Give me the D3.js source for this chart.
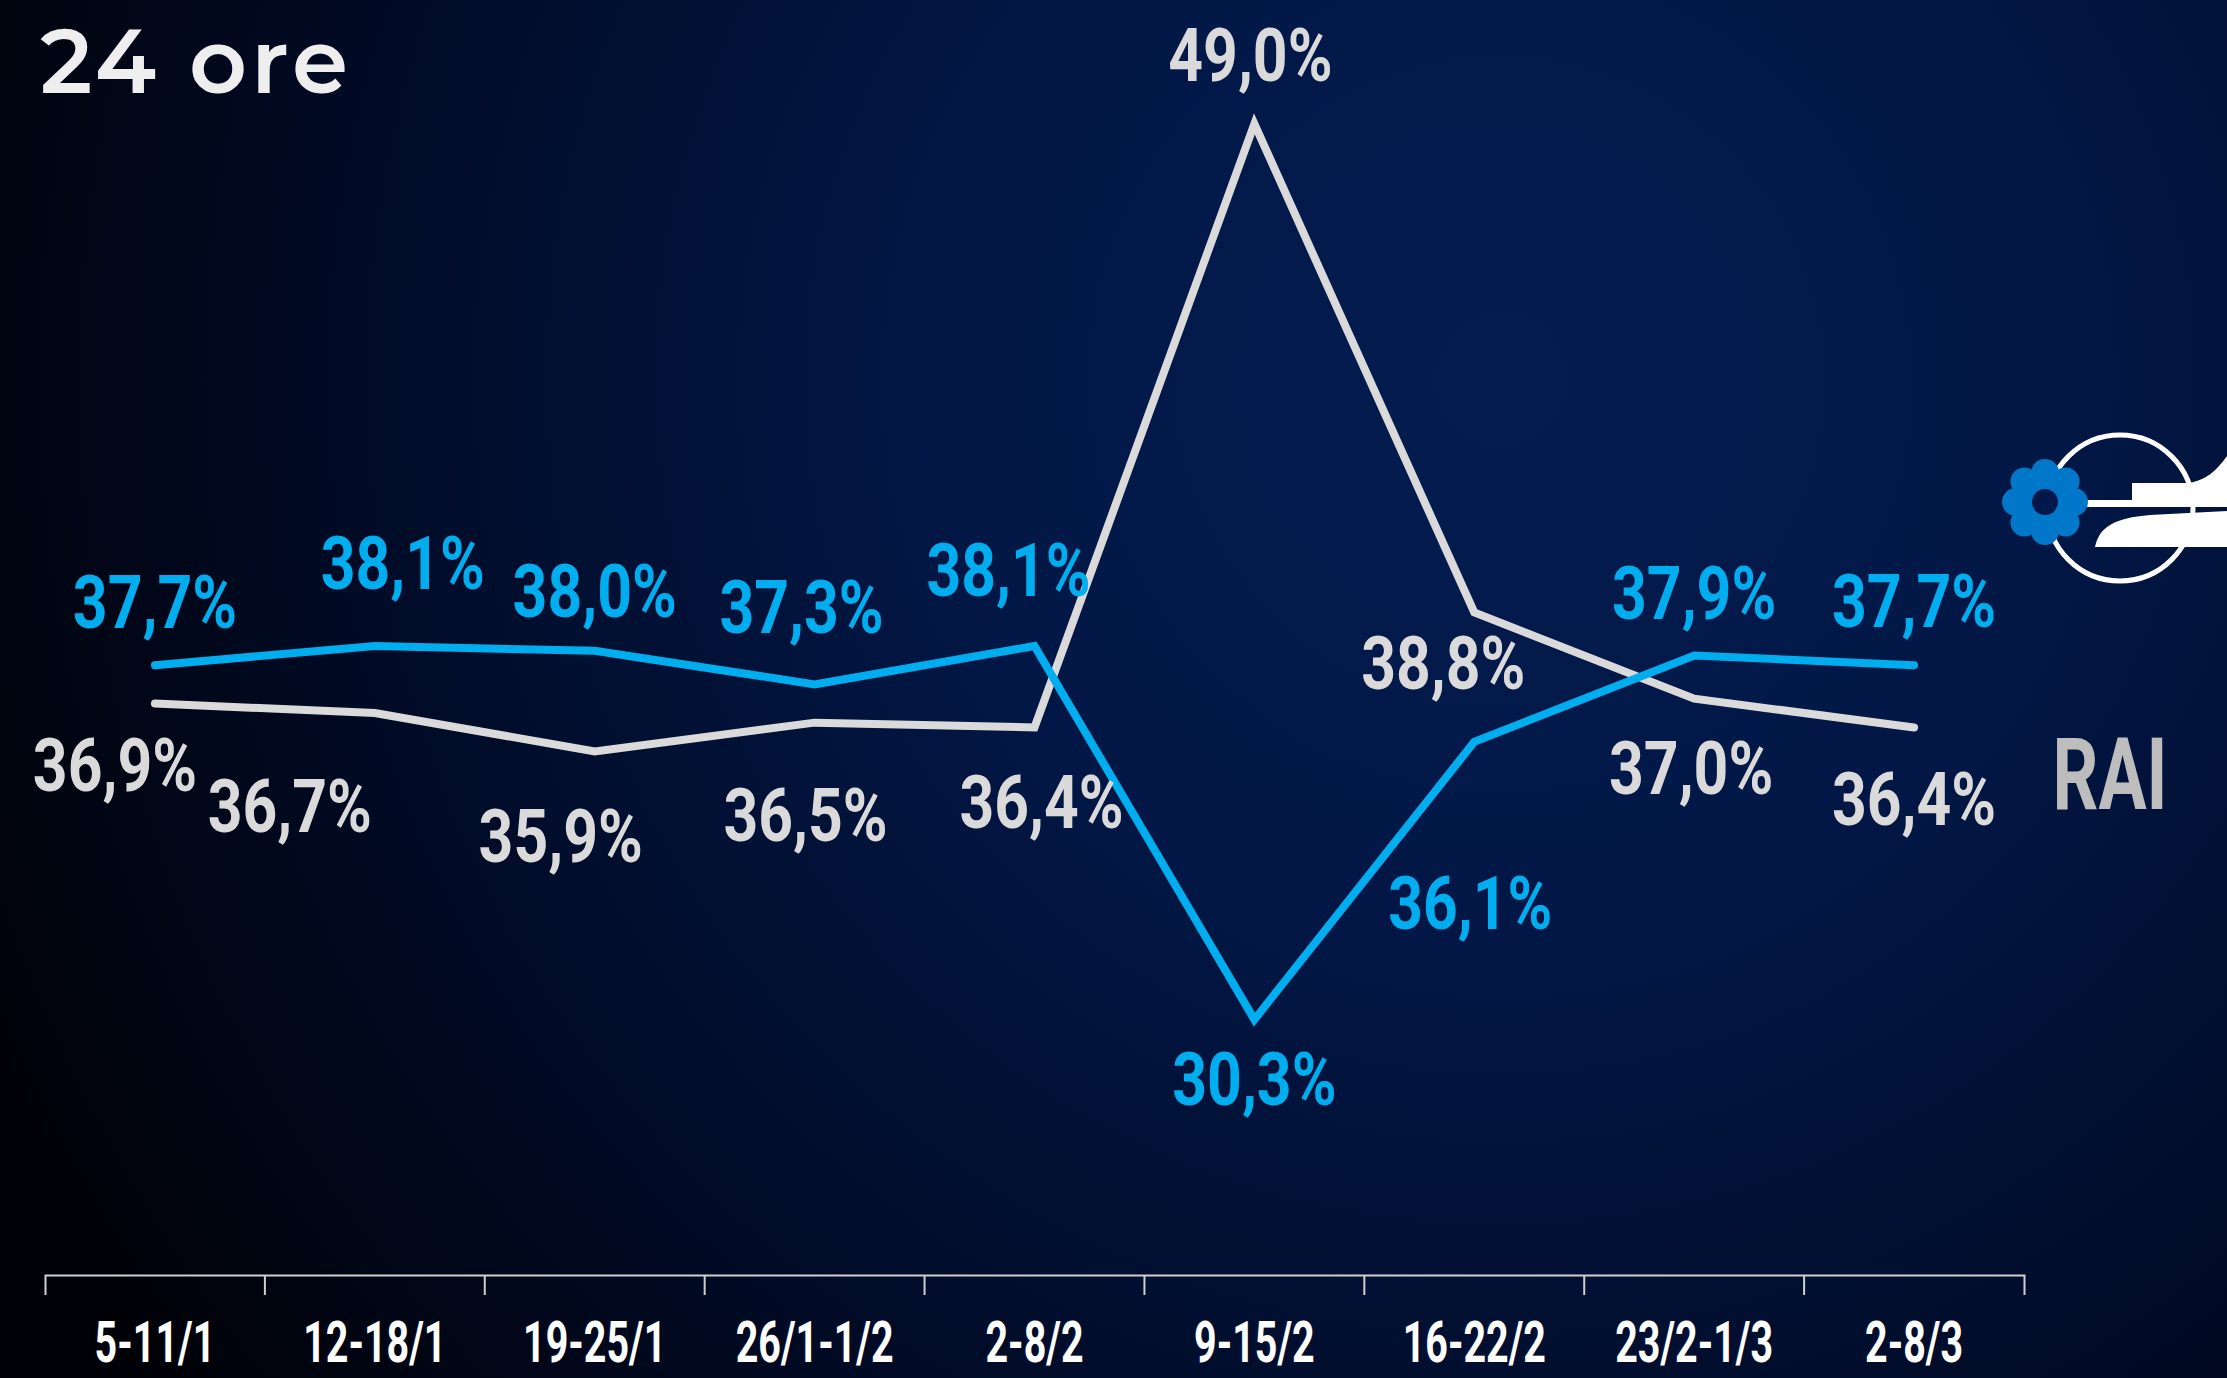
<!DOCTYPE html>
<html>
<head>
<meta charset="utf-8">
<script src="https://cdn.jsdelivr.net/npm/d3@7"></script>
<style>
  html, body { margin: 0; padding: 0; background: #01040f; overflow: hidden; }
  svg { display: block; }
</style>
</head>
<body>
<div id="viz"></div>
<script>
// weekly share, 24 ore
const weeks = ["5-11/1", "12-18/1", "19-25/1", "26/1-1/2", "2-8/2", "9-15/2", "16-22/2", "23/2-1/3", "2-8/3"];
const mediaset = [37.7, 38.1, 38.0, 37.3, 38.1, 30.3, 36.1, 37.9, 37.7];
const rai = [36.9, 36.7, 35.9, 36.5, 36.4, 49.0, 38.8, 37.0, 36.4];

// hand placement of the value labels, [dx, dy] from the point
const mediasetNudge = [[0, -37], [28, -57], [0, -34], [-13, -51], [-26, -50], [0, 85], [-4, 187], [0, -37], [0, -38]];
const raiNudge = [[-40, 88], [-85, 119], [-34, 111], [-9, 118], [7, 101], [-4, -43], [-31, 77], [-3, 95], [0, 98]];

const width = 2227,
    height = 1378,
    axisY = 1275;

const blue = "#00aeef",
    light = "#dadada";

const svg = d3.select("#viz").append("svg")
    .attr("width", width)
    .attr("height", height);

// background
const defs = svg.append("defs");
const bg = defs.append("radialGradient")
    .attr("id", "bg")
    .attr("gradientUnits", "userSpaceOnUse")
    .attr("cx", 1500).attr("cy", 380).attr("r", 1650);
bg.append("stop").attr("offset", 0).attr("stop-color", "#041c50");
bg.append("stop").attr("offset", 0.35).attr("stop-color", "#021745");
bg.append("stop").attr("offset", 0.7).attr("stop-color", "#010b26");
bg.append("stop").attr("offset", 1).attr("stop-color", "#000208");

svg.append("rect")
    .attr("width", width)
    .attr("height", height)
    .attr("fill", "url(#bg)");

svg.append("text")
    .attr("x", 40)
    .attr("y", 93)
    .attr("fill", "#eeeeee")
    .style("font-family", "Montserrat, Inter, 'Open Sans', sans-serif")
    .style("font-weight", 600)
    .style("font-size", "90px")
    .style("letter-spacing", "4px")
    .text("24 ore");

const x = d3.scaleBand()
    .domain(weeks)
    .range([45, 2024])
    .padding(0);

const y = d3.scaleLinear()
    .domain([30, 50])
    .range([1034, 76]);

const cx = d => x(d) + x.bandwidth() / 2;

// x axis: end ticks from the domain path, inner ticks on band edges
const xAxis = d3.axisBottom(x)
    .tickSize(0)
    .tickSizeOuter(20);

const gx = svg.append("g")
    .attr("transform", "translate(0," + axisY + ")")
    .call(xAxis);

gx.select(".domain")
    .attr("stroke", "#cfcfcf")
    .attr("stroke-width", 2);

gx.selectAll(".tick text")
    .attr("y", 87)
    .attr("dy", null)
    .attr("fill", "#ffffff")
    .attr("transform", "scale(0.68,1)")
    .style("font-family", "Roboto, sans-serif")
    .style("font-weight", 700)
    .style("font-size", "58px");

gx.selectAll(".edge")
    .data(weeks.slice(1))
    .enter().append("line")
    .attr("class", "edge")
    .attr("x1", d => x(d))
    .attr("x2", d => x(d))
    .attr("y1", 0)
    .attr("y2", 20)
    .attr("stroke", "#cfcfcf")
    .attr("stroke-width", 2);

// lines
const line = d3.line()
    .x((d, i) => cx(weeks[i]))
    .y(d => y(d));

svg.append("path")
    .datum(rai)
    .attr("d", line)
    .attr("fill", "none")
    .attr("stroke", light)
    .attr("stroke-width", 8)
    .attr("stroke-linecap", "round");

svg.append("path")
    .datum(mediaset)
    .attr("d", line)
    .attr("fill", "none")
    .attr("stroke", blue)
    .attr("stroke-width", 8)
    .attr("stroke-linecap", "round");

// value labels
const fmt = v => d3.format(".1f")(v).replace(".", ",") + "%";

function drawLabels(values, nudge, color) {
    svg.append("g")
        .selectAll("g")
        .data(values)
        .enter().append("g")
        .attr("transform", (d, i) => "translate(" + (cx(weeks[i]) + nudge[i][0]) + "," + (y(d) + nudge[i][1]) + ") scale(0.82,1)")
        .append("text")
        .attr("text-anchor", "middle")
        .attr("fill", color)
        .style("font-family", "Roboto, sans-serif")
        .style("font-weight", 700)
        .style("font-size", "74px")
        .text(fmt);
}

drawLabels(rai, raiNudge, light);
drawLabels(mediaset, mediasetNudge, blue);

// logo on the right
const logo = svg.append("g");

logo.append("circle")
    .attr("cx", 2120).attr("cy", 508).attr("r", 73)
    .attr("fill", "none")
    .attr("stroke", "#ffffff")
    .attr("stroke-width", 5);

logo.append("path")
    .attr("d", "M2086,500 L2132,500 L2132,483 L2186,483 C2205,482 2217,470 2227,456 L2227,507 L2086,507 Z")
    .attr("fill", "#ffffff");

logo.append("path")
    .attr("d", "M2095,547 C2099,527 2114,518 2150,515 L2227,511 L2227,547 Z")
    .attr("fill", "#ffffff");

const flower = logo.append("g")
    .attr("transform", "translate(2045,502)");

flower.selectAll("circle.petal")
    .data(d3.range(8))
    .enter().append("circle")
    .attr("class", "petal")
    .attr("cx", i => 29 * Math.cos(i * Math.PI / 4))
    .attr("cy", i => 29 * Math.sin(i * Math.PI / 4))
    .attr("r", 14)
    .attr("fill", "#0077c8");

flower.append("circle")
    .attr("r", 30)
    .attr("fill", "#0077c8");

flower.append("circle")
    .attr("r", 13)
    .attr("fill", "#03184a");

svg.append("g")
    .attr("transform", "translate(2110,809) scale(0.71,1)")
    .append("text")
    .attr("text-anchor", "middle")
    .attr("fill", "#bdbdbd")
    .style("font-family", "Roboto, sans-serif")
    .style("font-weight", 700)
    .style("font-size", "101px")
    .text("RAI");
</script>
</body>
</html>
